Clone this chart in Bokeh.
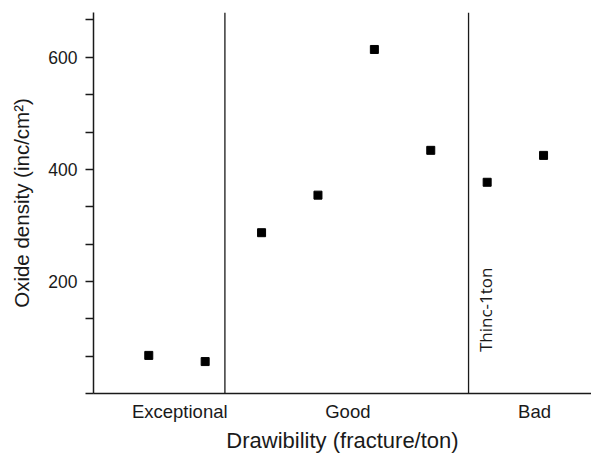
from bokeh.plotting import figure
from bokeh.models import FixedTicker, ColumnDataSource
from bokeh.core.properties import value
from bokeh.embed import file_html
from bokeh.resources import INLINE

# data
x_pos = [1, 2, 3, 4, 5, 6, 7, 8]
oxide = [68, 57, 287, 354, 614, 434, 377, 425]
categories = ["Exceptional", "Good", "Bad"]
category_centers = [1.55, 4.53, 7.84]
dividers = [2.35, 6.67]
y_ticks = [0, 66.67, 133.33, 200, 266.67, 333.33, 400, 466.67, 533.33, 600, 666.67]
y_labels = {200: "200", 400: "400", 600: "600"}
note_text = ["Thinc-1ton"]
note_x = [6.975]
note_y = [74]

p = figure(width=591, height=461, output_backend="svg", toolbar_location=None,
           x_range=(0.02, 8.85), y_range=(0, 680),
           min_border_left=93, min_border_right=0, min_border_top=12, min_border_bottom=68)
p.outline_line_color = None
p.grid.visible = False
p.background_fill_color = "white"

# x axis
p.xaxis.ticker = FixedTicker(ticks=category_centers)
p.xaxis.major_label_overrides = {c: t for c, t in zip(category_centers, categories)}
p.xaxis.major_tick_line_color = None
p.xaxis.major_tick_out = 0
p.xaxis.major_tick_in = 0
p.xaxis.minor_tick_line_color = None
p.xaxis.major_label_text_font = "Liberation Sans"
p.xaxis.major_label_text_font_size = "18.5px"
p.xaxis.major_label_text_color = "#1a1a1a"
p.xaxis.major_label_standoff = 7
p.xaxis.axis_label = "Drawibility (fracture/ton)"
p.xaxis.axis_label_text_font = "Liberation Sans"
p.xaxis.axis_label_text_font_style = "normal"
p.xaxis.axis_label_text_font_size = "22px"
p.xaxis.axis_label_text_color = "#1a1a1a"
p.xaxis.axis_label_standoff = 3
p.xaxis.axis_line_width = 1.5
p.xaxis.axis_line_color = "#1a1a1a"

# y axis
p.yaxis.ticker = FixedTicker(ticks=y_ticks)
p.yaxis.major_label_overrides = {t: y_labels.get(round(t), "") for t in y_ticks}
p.yaxis.major_tick_out = 8
p.yaxis.major_tick_in = 0
p.yaxis.minor_tick_line_color = None
p.yaxis.major_tick_line_width = 1.3
p.yaxis.major_tick_line_color = "#1a1a1a"
p.yaxis.major_label_text_font = "Liberation Sans"
p.yaxis.major_label_text_font_size = "17.5px"
p.yaxis.major_label_text_color = "#1a1a1a"
p.yaxis.major_label_standoff = 8
p.yaxis.axis_label = "Oxide density (inc/cm²)"
p.yaxis.axis_label_text_font = "Liberation Sans"
p.yaxis.axis_label_text_font_style = "normal"
p.yaxis.axis_label_text_font_size = "20.5px"
p.yaxis.axis_label_text_color = "#1a1a1a"
p.yaxis.axis_label_standoff = 12
p.yaxis.axis_line_width = 1.5
p.yaxis.axis_line_color = "#1a1a1a"

# divider lines
for d in dividers:
    p.segment(x0=[d], y0=[0], x1=[d], y1=[680], line_color="#1a1a1a", line_width=1.3)

# points
src = ColumnDataSource(dict(x=x_pos, y=oxide))
p.scatter("x", "y", source=src, marker="square", size=8, fill_color="black", line_color="black")

# note text
p.text(x=note_x, y=note_y, text=note_text, angle=1.5708, text_align="left",
       text_baseline="middle", text_font=value("Open Sans"), text_font_size="17px",
       text_color="#1a1a1a")

open("out.html", "w").write(file_html(p, INLINE))
